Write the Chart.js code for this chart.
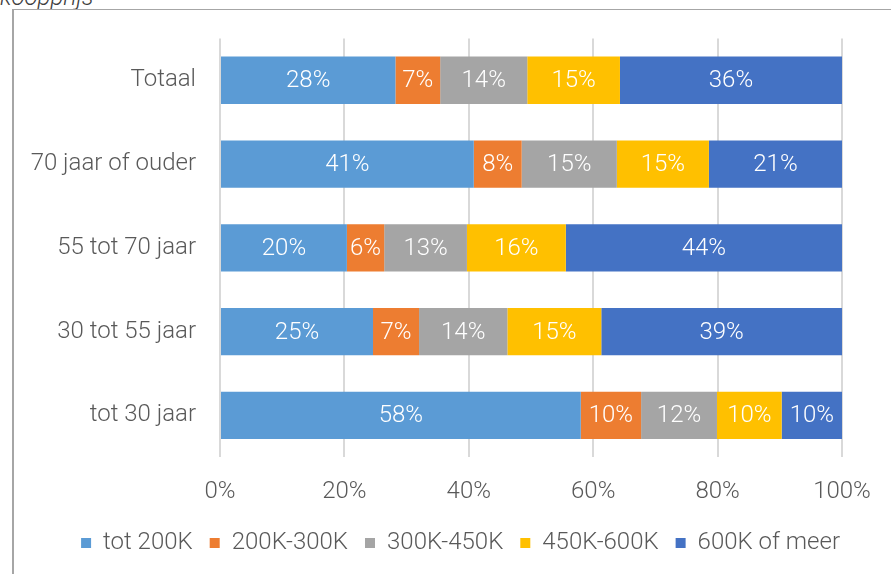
<!DOCTYPE html>
<html>
<head>
<meta charset="utf-8">
<script src="https://cdn.jsdelivr.net/npm/chart.js@4"></script>
<style>
  html, body { margin: 0; padding: 0; background: #fff; overflow: hidden; }
  body { width: 891px; height: 574px; position: relative; font-family: Roboto, "Noto Sans", sans-serif; }
  #title { position: absolute; left: 0px; top: -17px; font-size: 24px; font-weight: 300; font-style: italic; color: #404040; white-space: nowrap; }
  #frame { position: absolute; left: 12px; top: 9px; width: 900px; height: 600px; border-left: 2px solid #A6A6A6; border-top: 1px solid #A6A6A6; box-sizing: border-box; }
  #wrap { position: absolute; left: 0; top: 0; width: 891px; height: 574px; }
</style>
</head>
<body>
<div id="title">koopprijs</div>
<div id="frame"></div>
<div id="wrap"><canvas id="c" width="891" height="574"></canvas></div>
<script>
// Age groups (top to bottom) and the share of each purchase-price band
const categories = ['Totaal', '70 jaar of ouder', '55 tot 70 jaar', '30 tot 55 jaar', 'tot 30 jaar'];
const seriesNames = ['tot 200K', '200K-300K', '300K-450K', '450K-600K', '600K of meer'];
const tot200K   = [28.2, 40.8, 20.4, 24.6, 58.0];
const k200_300  = [7.2, 7.7, 6.0, 7.4, 9.7];
const k300_450  = [14.0, 15.3, 13.3, 14.2, 12.2];
const k450_600  = [14.9, 14.8, 15.9, 15.1, 10.4];
const k600plus  = [35.7, 21.4, 44.4, 38.7, 9.7];
const xTicks = [0, 20, 40, 60, 80, 100];
const colors = ['#5B9BD5', '#ED7D31', '#A5A5A5', '#FFC000', '#4472C4'];

const seriesValues = [tot200K, k200_300, k300_450, k450_600, k600plus];
const FONT = 'Roboto, "Noto Sans", sans-serif';
const TEXT = '#595959';

// White percentage labels centred in each segment
const segmentLabels = {
  id: 'segmentLabels',
  afterDatasetsDraw(chart) {
    const ctx = chart.ctx;
    ctx.save();
    ctx.fillStyle = '#FFFFFF';
    ctx.font = '300 24px ' + FONT;
    ctx.textAlign = 'center';
    ctx.textBaseline = 'middle';
    chart.data.datasets.forEach((ds, di) => {
      chart.getDatasetMeta(di).data.forEach((bar, i) => {
        const v = ds.data[i];
        const cx = (bar.x + bar.base) / 2;
        ctx.fillText(Math.round(v) + '%', cx, bar.y + 1);
      });
    });
    ctx.restore();
  }
};

// Nudge the legend row so it ends under the 100% gridline
const legendShift = {
  id: 'legendShift',
  afterLayout(chart) {
    if (chart.legend) {
      chart.legend.left += 15;
      chart.legend.right += 15;
    }
  }
};

new Chart(document.getElementById('c'), {
  type: 'bar',
  data: {
    labels: categories,
    datasets: seriesNames.map((name, i) => ({
      label: name,
      data: seriesValues[i],
      backgroundColor: colors[i],
      borderWidth: 0,
      categoryPercentage: 1,
      barPercentage: 0.565
    }))
  },
  options: {
    indexAxis: 'y',
    responsive: false,
    animation: false,
    layout: { padding: { top: 38, right: 49, bottom: 9, left: 0 } },
    scales: {
      x: {
        stacked: true,
        min: 0, max: 100,
        afterBuildTicks(scale) { scale.ticks = xTicks.map(v => ({ value: v })); },
        afterFit(scale) { scale.height -= 12; },
        grid: { color: '#D9D9D9', lineWidth: 2, drawTicks: false },
        border: { display: false },
        ticks: {
          color: TEXT, padding: 20,
          font: { family: FONT, size: 24, weight: '300' },
          callback: v => v + '%'
        }
      },
      y: {
        stacked: true,
        grid: { display: false, drawTicks: false },
        border: { display: false },
        afterFit(scale) { scale.width = 220; },
        ticks: {
          color: TEXT, padding: 24,
          font: { family: FONT, size: 24, weight: '300' }
        }
      }
    },
    plugins: {
      legend: {
        position: 'bottom',
        align: 'end',
        labels: {
          color: TEXT, boxWidth: 10, boxHeight: 10, padding: 17,
          font: { family: FONT, size: 24, weight: '300' }
        }
      },
      tooltip: { enabled: false }
    }
  },
  plugins: [segmentLabels, legendShift]
});
</script>
</body>
</html>
